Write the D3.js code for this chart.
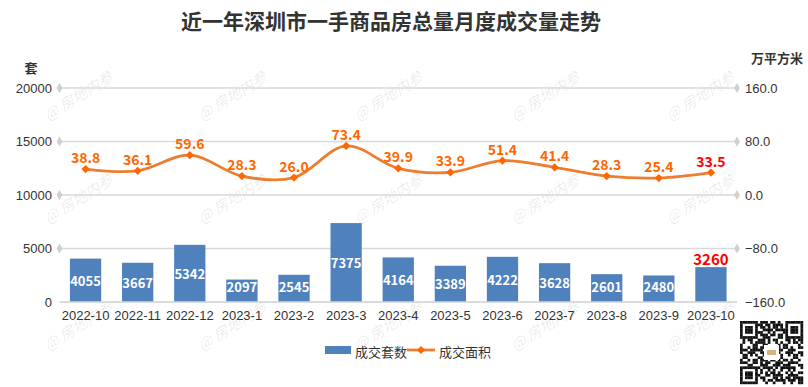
<!DOCTYPE html>
<html>
<head>
<meta charset="utf-8">
<script src="https://cdn.jsdelivr.net/npm/d3@7/dist/d3.min.js"></script>
<style>
  body { margin: 0; background: #fff; }
  svg { display: block; font-family: "Noto Sans CJK SC", "Microsoft YaHei", sans-serif; }
</style>
</head>
<body>
<svg id="chart" width="808" height="387"></svg>
<script>
// data
const months = ["2022-10", "2022-11", "2022-12", "2023-1", "2023-2", "2023-3", "2023-4",
                "2023-5", "2023-6", "2023-7", "2023-8", "2023-9", "2023-10"];
const units = [4055, 3667, 5342, 2097, 2545, 7375, 4164, 3389, 4222, 3628, 2601, 2480, 3260];
const area = [38.8, 36.1, 59.6, 28.3, 26.0, 73.4, 39.9, 33.9, 51.4, 41.4, 28.3, 25.4, 33.5];
const leftTicks = [0, 5000, 10000, 15000, 20000];
const rightTicks = [-160, -80, 0, 80, 160];

const plotLeft = 59.5, plotRight = 737, plotTop = 88, plotBottom = 302;

const svg = d3.select("#chart");

const x = d3.scaleBand().domain(months).range([plotLeft, plotRight]).paddingInner(0.4).paddingOuter(0.2);
const yL = d3.scaleLinear().domain([0, 20000]).range([plotBottom, plotTop]);
const yR = d3.scaleLinear().domain([-160, 160]).range([plotBottom, plotTop]);

// watermark
const wm = svg.append("g");
[95, 198, 325].forEach(cy => {
    [78, 232, 388, 545, 700].forEach(cx => {
        wm.append("text")
            .attr("transform", `translate(${cx},${cy}) rotate(-32)`)
            .attr("text-anchor", "middle")
            .attr("dominant-baseline", "central")
            .style("font-size", "15px")
            .style("font-style", "italic")
            .style("fill", "#000")
            .style("fill-opacity", 0.09)
            .text("@ 房地内参");
    });
});

// title
svg.append("text")
    .attr("x", 391).attr("y", 29)
    .attr("text-anchor", "middle")
    .style("font-size", "21px").style("font-weight", "bold").style("fill", "#333")
    .text("近一年深圳市一手商品房总量月度成交量走势");

// grid lines
const diamond = d3.symbol().type(d3.symbolDiamond).size(30);
leftTicks.forEach(t => {
    const y = yL(t);
    svg.append("line")
        .attr("x1", plotLeft).attr("x2", plotRight).attr("y1", y).attr("y2", y)
        .style("stroke", "#d9d9d9").style("stroke-width", 1.5);
    if (t !== 0) {
        svg.append("path").attr("d", diamond).attr("transform", `translate(${plotLeft},${y})`).style("fill", "#d0d0d0");
        svg.append("path").attr("d", diamond).attr("transform", `translate(${plotRight},${y})`).style("fill", "#d0d0d0");
    }
});

// axes labels
const yAxisL = d3.axisLeft(yL).tickValues(leftTicks).tickSize(0).tickPadding(0).tickFormat(d3.format("d"));
const gL = svg.append("g").attr("transform", `translate(52,0)`).call(yAxisL);
gL.select(".domain").remove();
gL.selectAll("text").style("font-size", "13px").style("fill", "#333").style("font-family", "inherit");

const yAxisR = d3.axisRight(yR).tickValues(rightTicks).tickSize(0).tickPadding(0).tickFormat(d3.format(".1f"));
const gR = svg.append("g").attr("transform", `translate(745,0)`).call(yAxisR);
gR.select(".domain").remove();
gR.selectAll("text").style("font-size", "13px").style("fill", "#333").style("font-family", "inherit");

const xAxis = d3.axisBottom(x).tickSize(0).tickPadding(9);
const gX = svg.append("g").attr("transform", `translate(0,${plotBottom})`).call(xAxis);
gX.select(".domain").remove();
gX.selectAll("text").style("font-size", "13px").style("fill", "#333").style("font-family", "inherit");

svg.append("text").attr("x", 31).attr("y", 73).attr("text-anchor", "middle")
    .style("font-size", "13px").style("font-weight", "bold").style("fill", "#333").text("套");
svg.append("text").attr("x", 777).attr("y", 63).attr("text-anchor", "middle")
    .style("font-size", "13px").style("font-weight", "bold").style("fill", "#333").text("万平方米");

// bars
const barColor = "#4f81bd";
svg.selectAll("rect.bar")
    .data(units)
    .enter().append("rect")
    .attr("class", "bar")
    .attr("x", (d, i) => x(months[i]))
    .attr("width", x.bandwidth())
    .attr("y", d => yL(d))
    .attr("height", d => plotBottom - yL(d))
    .style("fill", barColor);

// bottom axis line
svg.append("line")
    .attr("x1", plotLeft).attr("x2", plotRight).attr("y1", plotBottom).attr("y2", plotBottom)
    .style("stroke", "#d9d9d9").style("stroke-width", 1.5);

const last = units.length - 1;
svg.selectAll("text.barlabel")
    .data(units)
    .enter().append("text")
    .attr("class", "barlabel")
    .attr("x", (d, i) => x(months[i]) + x.bandwidth() / 2)
    .attr("y", (d, i) => i === last ? yL(d) - 9 : Math.min((yL(d) + plotBottom) / 2, plotBottom - 16))
    .attr("text-anchor", "middle")
    .attr("dominant-baseline", "central")
    .style("font-size", (d, i) => i === last ? "15px" : "13px")
    .style("font-weight", "bold")
    .style("fill", (d, i) => i === last ? "#ff0000" : "#fff")
    .text(d => d);

// line
const cx = i => x(months[i]) + x.bandwidth() / 2;
const line = d3.line()
    .x((d, i) => cx(i))
    .y(d => yR(d))
    .curve(d3.curveCatmullRom.alpha(0.5));

svg.append("path")
    .datum(area)
    .attr("d", line)
    .style("fill", "none")
    .style("stroke", "#ed7d31")
    .style("stroke-width", 2.75);

const marker = d3.symbol().type(d3.symbolSquare).size(34);
svg.selectAll("path.marker")
    .data(area)
    .enter().append("path")
    .attr("class", "marker")
    .attr("d", marker)
    .attr("transform", (d, i) => `translate(${cx(i)},${yR(d)}) rotate(45)`)
    .style("fill", "#ff6600");

svg.selectAll("text.linelabel")
    .data(area)
    .enter().append("text")
    .attr("class", "linelabel")
    .attr("x", (d, i) => cx(i))
    .attr("y", d => yR(d) - 12)
    .attr("text-anchor", "middle")
    .attr("dominant-baseline", "central")
    .style("font-size", "14px")
    .style("font-weight", "bold")
    .style("fill", (d, i) => i === last ? "#ff0000" : "#ff6600")
    .text(d => d3.format(".1f")(d));

// legend
const lg = svg.append("g");
lg.append("rect").attr("x", 325).attr("y", 346).attr("width", 26).attr("height", 8).style("fill", barColor);
lg.append("text").attr("x", 355).attr("y", 351).attr("dominant-baseline", "central")
    .style("font-size", "13px").style("fill", "#333").text("成交套数");
lg.append("line").attr("x1", 407).attr("x2", 435).attr("y1", 350).attr("y2", 350)
    .style("stroke", "#ed7d31").style("stroke-width", 2.75);
lg.append("path").attr("d", marker).attr("transform", "translate(421,350) rotate(45)").style("fill", "#ff6600");
lg.append("text").attr("x", 439).attr("y", 351).attr("dominant-baseline", "central")
    .style("font-size", "13px").style("fill", "#333").text("成交面积");

// qr code style decoration
const qr = svg.append("g").attr("transform", "translate(740,321)");
const n = 25, cell = 63 / n;
const isFinder = (r, c) => (r < 7 && c < 7) || (r < 7 && c >= n - 7) || (r >= n - 7 && c < 7);
for (let r = 0; r < n; r++) {
    for (let c = 0; c < n; c++) {
        let on;
        if (isFinder(r, c)) {
            const rr = r < 7 ? r : r - (n - 7), cc = c < 7 ? c : c - (n - 7);
            const ring = Math.max(Math.abs(rr - 3), Math.abs(cc - 3));
            on = ring !== 2;
        } else {
            on = ((r * 31 + c * 17 + r * c * 7) % 5) < 2 || ((r ^ c) % 3 === 0);
        }
        if (on) qr.append("rect").attr("x", c * cell).attr("y", r * cell)
            .attr("width", cell + 0.2).attr("height", cell + 0.2).style("fill", "#111");
    }
}
qr.append("rect").attr("x", 24).attr("y", 24).attr("width", 15).attr("height", 15).style("fill", "#fff");
qr.append("rect").attr("x", 27).attr("y", 29).attr("width", 9).attr("height", 5).style("fill", "#d8b27a");
</script>
</body>
</html>
